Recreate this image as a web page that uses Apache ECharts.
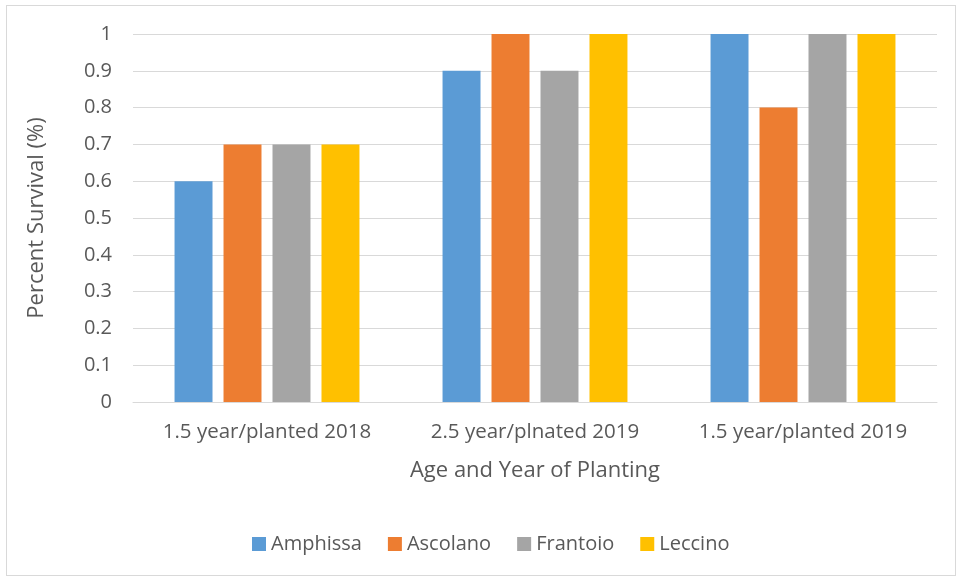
<!DOCTYPE html>
<html>
<head>
<meta charset="utf-8">
<script src="https://cdn.jsdelivr.net/npm/echarts@6/dist/echarts.min.js"></script>
<style>
html,body{margin:0;padding:0;background:#fff;}
#frame{position:absolute;left:6px;top:5px;width:950px;height:571px;border:1px solid #d9d9d9;box-sizing:border-box;}
#chart{position:absolute;left:0;top:0;width:957px;height:578px;}
</style>
</head>
<body>
<div id="frame"></div>
<div id="chart"></div>
<script>
const categories = ['1.5 year/planted 2018', '2.5 year/plnated 2019', '1.5 year/planted 2019'];
const seriesNames = ['Amphissa', 'Ascolano', 'Frantoio', 'Leccino'];
const amphissa = [0.6, 0.9, 1.0];
const ascolano = [0.7, 1.0, 0.8];
const frantoio = [0.7, 0.9, 1.0];
const leccino = [0.7, 1.0, 1.0];
const colors = ['#5b9bd5', '#ed7d31', '#a5a5a5', '#ffc000'];
const values = [amphissa, ascolano, frantoio, leccino];

const font = '"Open Sans", "Liberation Sans", sans-serif';
const chart = echarts.init(document.getElementById('chart'));
chart.setOption({
  animation: false,
  textStyle: { fontFamily: font },
  grid: { left: 133, right: 20, top: 34, bottom: 176 },
  legend: {
    data: seriesNames,
    top: 529,
    left: 247,
    itemWidth: 14,
    itemHeight: 14,
    itemGap: 26,
    icon: 'rect',
    textStyle: { fontFamily: font, fontSize: 20, color: '#595959' }
  },
  xAxis: {
    type: 'category',
    data: categories,
    name: 'Age and Year of Planting',
    nameLocation: 'middle',
    nameGap: 58,
    nameTextStyle: { fontFamily: font, fontSize: 22, color: '#595959' },
    axisLine: { lineStyle: { color: '#d9d9d9', width: 1 } },
    axisTick: { show: false },
    axisLabel: { fontFamily: font, fontSize: 20.5, color: '#595959', margin: 20, interval: 0, hideOverlap: false }
  },
  yAxis: {
    type: 'value',
    min: 0,
    max: 1,
    interval: 0.1,
    name: 'Percent Survival (%)',
    nameLocation: 'middle',
    nameGap: 85,
    nameTextStyle: { fontFamily: font, fontSize: 22, color: '#595959' },
    axisLine: { show: false },
    axisTick: { show: false },
    splitLine: { lineStyle: { color: '#d9d9d9', width: 1 } },
    axisLabel: {
      fontFamily: font, fontSize: 20, color: '#595959', margin: 21,
      formatter: v => String(Math.round(v * 10) / 10)
    }
  },
  series: seriesNames.map((n, i) => ({
    name: n,
    type: 'bar',
    data: values[i],
    itemStyle: { color: colors[i] },
    barGap: '29%',
    barCategoryGap: '31%'
  }))
});
</script>
</body>
</html>
